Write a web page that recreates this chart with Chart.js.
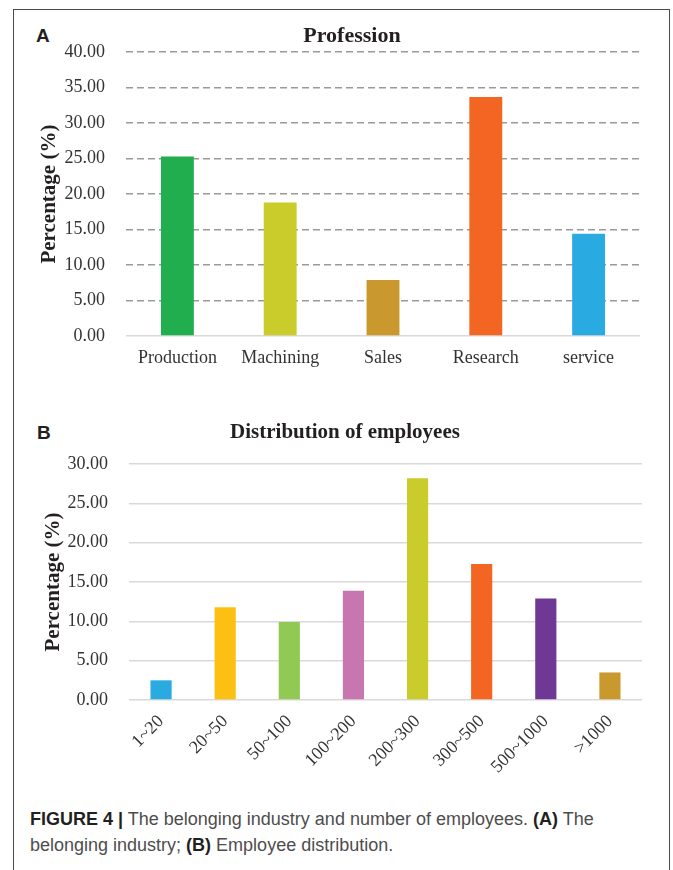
<!DOCTYPE html>
<html>
<head>
<meta charset="utf-8">
<script src="https://cdn.jsdelivr.net/npm/chart.js@4"></script>
<style>
  body { margin: 0; background: #fff; width: 673px; height: 870px; position: relative; overflow: hidden; }
  .frame { position: absolute; left: 13px; top: 9px; width: 655px; height: 900px;
           border: 1.5px solid #4a4a4a; border-bottom: none; }
  .panel { position: absolute; font: bold 19px "Liberation Sans", Arial, sans-serif; color: #231f20; }
  #wrapA { position: absolute; left: 34px; top: 10px; width: 636px; height: 362px; }
  #wrapB { position: absolute; left: 20px; top: 405px; width: 650px; height: 375px; }
  .caption { position: absolute; left: 30px; top: 806px; font: 18px "Liberation Sans", Arial, sans-serif;
             line-height: 26px; color: #4d4d4d; white-space: nowrap; }
  .caption b { color: #231f20; }
</style>
</head>
<body>
<div class="frame"></div>
<div class="panel" style="left:36px; top:25px;">A</div>
<div class="panel" style="left:37px; top:422px;">B</div>
<div id="wrapA"><canvas id="chartA"></canvas></div>
<div id="wrapB"><canvas id="chartB"></canvas></div>
<div class="caption"><b>FIGURE 4 |</b> The belonging industry and number of employees. <b>(A)</b> The<br>belonging industry; <b>(B)</b> Employee distribution.</div>

<script>
// panel A - profession
const professions = ['Production', 'Machining', 'Sales', 'Research', 'service'];
const professionValues = [25.3, 18.8, 7.9, 33.7, 14.4];
const professionColors = ['#21ae4f', '#c9cc2a', '#c9992d', '#f26522', '#29abe2'];

// panel B - number of employees
const sizeGroups = ['1~20', '20~50', '50~100', '100~200', '200~300', '300~500', '500~1000', '>1000'];
const sizeValues = [2.5, 11.8, 9.9, 13.9, 28.2, 17.3, 12.9, 3.5];
const sizeColors = ['#29abe2', '#fcc012', '#92c954', '#c776af', '#c9cc2a', '#f26522', '#6e3894', '#c9992d'];

const serif = '"Liberation Serif", "Times New Roman", serif';
const tickColor = '#333';

Chart.defaults.animation = false;
Chart.defaults.font.family = serif;

// empty axis on the right, only keeps a gap between plot and frame
function spacer(w) {
    return {
        position: 'right',
        grid: { display: false, drawTicks: false },
        border: { display: false },
        ticks: { display: false },
        afterFit: (s) => { s.width = w; }
    };
}

new Chart(document.getElementById('chartA'), {
    type: 'bar',
    data: {
        labels: professions,
        datasets: [{
            data: professionValues,
            backgroundColor: professionColors,
            categoryPercentage: 1,
            barPercentage: 0.32
        }]
    },
    options: {
        responsive: true,
        maintainAspectRatio: false,
        layout: { padding: 0 },
        plugins: {
            legend: { display: false },
            tooltip: { enabled: false },
            title: {
                display: true,
                text: 'Profession',
                color: '#231f20',
                font: { family: serif, size: 22, weight: 'bold' },
                padding: { top: 12.8, bottom: 3 }
            }
        },
        scales: {
            x: {
                grid: { display: false, drawTicks: false },
                border: { display: false },
                ticks: { color: tickColor, font: { size: 18 }, padding: 11 },
                afterFit: (s) => { s.height = 36; }
            },
            y: {
                min: 0,
                max: 40,
                ticks: {
                    stepSize: 5,
                    color: tickColor,
                    font: { size: 18 },
                    padding: 21,
                    callback: (v) => v.toFixed(2)
                },
                grid: {
                    drawTicks: false,
                    lineWidth: 1.5,
                    color: (ctx) => ctx.tick && ctx.tick.value === 0 ? '#d9d9d9' : '#9a9a9a'
                },
                border: {
                    display: false,
                    dash: (ctx) => ctx.tick && ctx.tick.value === 0 ? [] : [7, 4]
                },
                title: {
                    display: true,
                    text: 'Percentage (%)',
                    color: '#231f20',
                    font: { family: serif, size: 21, weight: 'bold' },
                    padding: { top: 3, bottom: 0 }
                },
                afterFit: (s) => { s.width = 92; }
            },
            gap: spacer(30)
        }
    }
});

new Chart(document.getElementById('chartB'), {
    type: 'bar',
    data: {
        labels: sizeGroups,
        datasets: [{
            data: sizeValues,
            backgroundColor: sizeColors,
            categoryPercentage: 1,
            barPercentage: 0.33
        }]
    },
    options: {
        responsive: true,
        maintainAspectRatio: false,
        layout: { padding: 0 },
        plugins: {
            legend: { display: false },
            tooltip: { enabled: false },
            title: {
                display: true,
                text: 'Distribution of employees',
                color: '#231f20',
                font: { family: serif, size: 21, weight: 'bold' },
                padding: { top: 15.4, bottom: 18.4 }
            }
        },
        scales: {
            x: {
                grid: { display: false, drawTicks: false },
                border: { display: false },
                ticks: { color: tickColor, font: { size: 18 }, padding: 11, minRotation: 45, maxRotation: 45 },
                afterFit: (s) => { s.height = 80; }
            },
            y: {
                min: 0,
                max: 30,
                ticks: {
                    stepSize: 5,
                    color: tickColor,
                    font: { size: 18 },
                    padding: 21,
                    callback: (v) => v.toFixed(2)
                },
                grid: { drawTicks: false, lineWidth: 1.5, color: '#d9d9d9' },
                border: { display: false },
                title: {
                    display: true,
                    text: 'Percentage (%)',
                    color: '#231f20',
                    font: { family: serif, size: 21, weight: 'bold' },
                    padding: { top: 21, bottom: 0 }
                },
                afterFit: (s) => { s.width = 109; }
            },
            gap: spacer(28)
        }
    }
});
</script>
</body>
</html>
